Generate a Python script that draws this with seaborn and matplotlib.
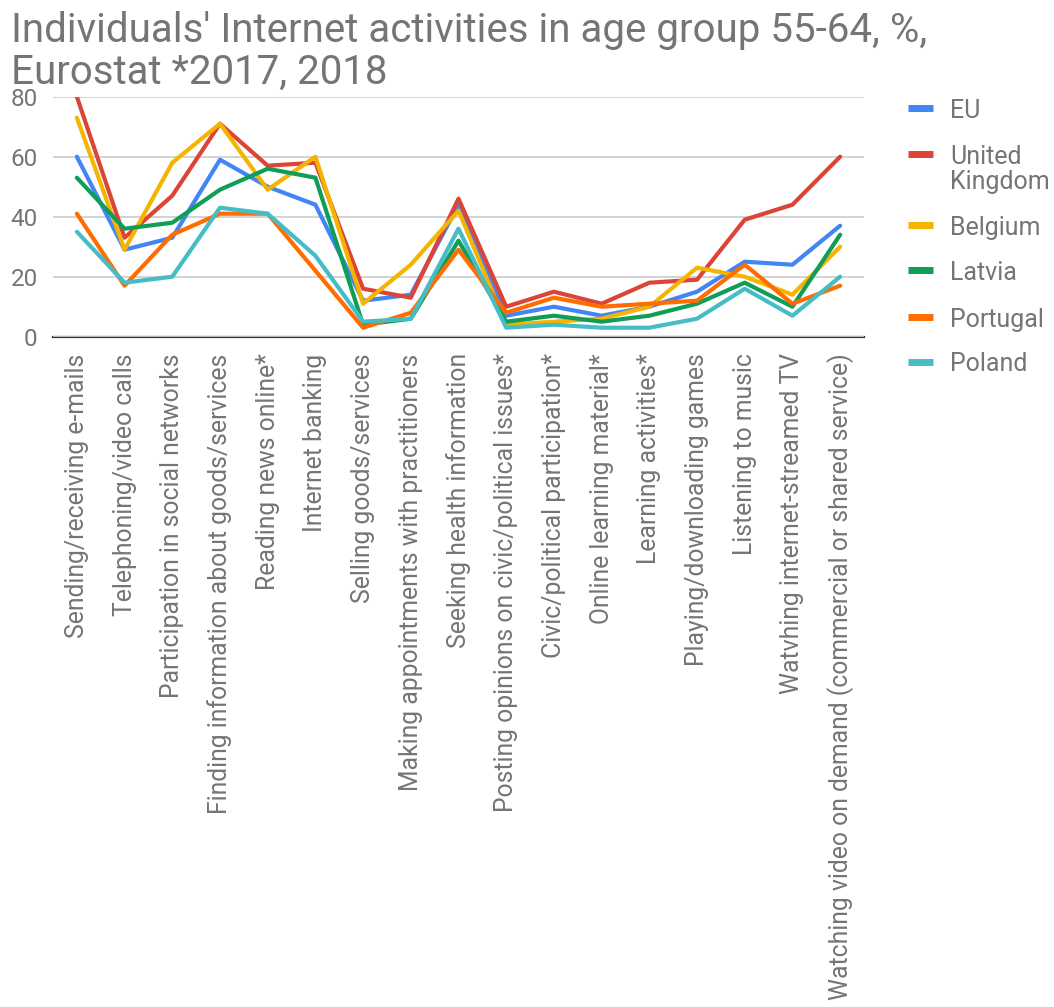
import numpy as np
import pandas as pd
import matplotlib
matplotlib.use("Agg")
import matplotlib.pyplot as plt
from matplotlib.lines import Line2D
import seaborn as sns

categories = [
    "Sending/receiving e-mails",
    "Telephoning/video calls",
    "Participation in social networks",
    "Finding information about goods/services",
    "Reading news online*",
    "Internet banking",
    "Selling goods/services",
    "Making appointments with practitioners",
    "Seeking health information",
    "Posting opinions on civic/political issues*",
    "Civic/political participation*",
    "Online learning material*",
    "Learning activities*",
    "Playing/downloading games",
    "Listening to music",
    "Watvhing internet-streamed TV",
    "Watching video on demand (commercial or shared service)",
]

eu = [60, 29, 33, 59, 50, 44, 12, 14, 44, 7, 10, 7, 10, 15, 25, 24, 37]
uk = [80, 33, 47, 71, 57, 58, 16, 13, 46, 10, 15, 11, 18, 19, 39, 44, 60]
belgium = [73, 29, 58, 71, 49, 60, 11, 24, 42, 4, 5, 6, 10, 23, 20, 14, 30]
latvia = [53, 36, 38, 49, 56, 53, 4, 6, 32, 5, 7, 5, 7, 11, 18, 10, 34]
portugal = [41, 17, 34, 41, 41, 22, 3, 8, 29, 8, 13, 10, 11, 12, 24, 11, 17]
poland = [35, 18, 20, 43, 41, 27, 5, 6, 36, 3, 4, 3, 3, 6, 16, 7, 20]

series_names = ["EU", "United Kingdom", "Belgium", "Latvia", "Portugal", "Poland"]
series_values = [eu, uk, belgium, latvia, portugal, poland]
colors = ["#4285F4", "#DB4437", "#F4B400", "#0F9D58", "#FF6D00", "#46BDC6"]

rows = []
for name, vals in zip(series_names, series_values):
    for c, v in zip(categories, vals):
        rows.append({"Activity": c, "Value": v, "Country": name})
df = pd.DataFrame(rows)

sns.set_theme(style="white")
plt.rcParams["font.family"] = ["Roboto", "DejaVu Sans"]
gray = "#757575"

W, H = 1054, 1007
fig = plt.figure(figsize=(W / 100, H / 100), dpi=100)
ax = fig.add_axes([53 / W, 1 - 336.7 / H, (864 - 53) / W, (336.7 - 96.7) / H])

sns.lineplot(data=df, x="Activity", y="Value", hue="Country",
             hue_order=series_names, palette=colors, sort=False,
             linewidth=3, ax=ax, legend=False)

ax.set_xlim(-0.5, len(categories) - 0.5)
ax.set_ylim(0, 80)
ax.set_yticks([0, 20, 40, 60, 80])
ax.set_xlabel("")
ax.set_ylabel("")
ax.grid(axis="y", color="#cccccc", linewidth=1.2)
ax.grid(axis="x", visible=False)
ax.set_axisbelow(True)
for s in ["top", "right", "left"]:
    ax.spines[s].set_visible(False)
ax.spines["bottom"].set_color("#333333")
ax.spines["bottom"].set_linewidth(1.6)
ax.spines["bottom"].set_zorder(0.5)

ax.set_xticks(range(len(categories)))
ax.set_xticklabels(categories, rotation=90, ha="center", va="top")
ax.tick_params(axis="x", length=0, pad=12, labelsize=17.8, labelcolor=gray)
ax.tick_params(axis="y", length=0, pad=11, labelsize=17.5, labelcolor=gray)

fig.text(11 / W, 1 - 11 / H,
         "Individuals' Internet activities in age group 55-64, %,\nEurostat *2017, 2018",
         ha="left", va="top", fontsize=29, color=gray, linespacing=1.08)

# legend
legend_entries = [("EU", [108]), ("United", [154]), ("Kingdom", [179]),
                  ("Belgium", [225]), ("Latvia", [270]), ("Portugal", [317]),
                  ("Poland", [362])]
handle_y = [108, 154, 225, 270, 317, 362]
for col, yy in zip(colors, handle_y):
    fy = 1 - yy / H
    fig.add_artist(Line2D([908 / W, 933 / W], [fy, fy], color=col, linewidth=5,
                          solid_capstyle="butt", transform=fig.transFigure))
for lab, (yy,) in legend_entries:
    fig.text(950 / W, 1 - yy / H, lab, ha="left", va="center_baseline",
             fontsize=18, color=gray)

fig.savefig("out.png", dpi=100, facecolor="white")
